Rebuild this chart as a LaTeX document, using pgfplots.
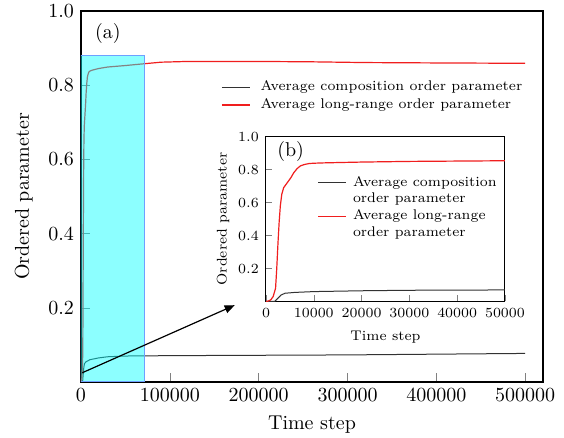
\documentclass[border=0pt]{standalone}
\usepackage{pgfplots}
\pgfplotsset{compat=1.18}
\usepackage{pgfplotstable}
\usetikzlibrary{arrows.meta}

\pgfplotstableread{
x y
0 0
1000 0.01
1500 0.03
2000 0.08
2250 0.2
2500 0.35
2750 0.48
3000 0.58
3300 0.65
3700 0.69
4200 0.71
4700 0.73
5200 0.75
5800 0.78
6500 0.805
7200 0.822
8000 0.83
9000 0.836
10000 0.838
12000 0.84
15000 0.842
20000 0.845
30000 0.849
40000 0.851
50000 0.853
72000 0.858
90000 0.862
120000 0.864
200000 0.864
260000 0.863
320000 0.861
400000 0.860
500000 0.859
}\redmain

\pgfplotstableread{
x y
0 0
1800 0.0
2500 0.02
3200 0.04
4000 0.05
6000 0.055
10000 0.06
20000 0.065
30000 0.068
50000 0.070
100000 0.071
200000 0.072
300000 0.073
400000 0.075
500000 0.077
}\blackmain

\pgfplotstableread{
x y
0 0
500 0.003
1000 0.01
1500 0.03
2000 0.08
2250 0.2
2500 0.35
2750 0.48
3000 0.58
3300 0.65
3700 0.69
4200 0.71
4700 0.73
5200 0.75
5800 0.78
6500 0.805
7200 0.822
8000 0.83
9000 0.836
10000 0.838
12000 0.84
15000 0.842
20000 0.845
30000 0.849
40000 0.851
50000 0.853
}\redinset

\pgfplotstableread{
x y
0 0
1800 0.0
2500 0.02
3200 0.04
4000 0.05
6000 0.055
10000 0.06
20000 0.065
30000 0.068
40000 0.069
50000 0.070
}\blackinset

\definecolor{mycyan}{RGB}{0,255,255}
\definecolor{myedge}{RGB}{110,160,255}
\definecolor{myred}{RGB}{240,30,30}
\definecolor{mygray}{RGB}{50,50,50}

\begin{document}
\begin{tikzpicture}
\useasboundingbox (-40.5pt,-28pt) rectangle (241.5pt,191pt);
\begin{axis}[
  name=main, at={(0pt,0pt)}, anchor=south west,
  scale only axis, width=231pt, height=185.5pt,
  xmin=0, xmax=520000, ymin=0, ymax=1,
  xtick={0,100000,200000,300000,400000,500000},
  ytick={0.2,0.4,0.6,0.8,1.0},
  tick align=inside, tick pos=left,
  scaled x ticks=false, scaled y ticks=false,
  xticklabel style={/pgf/number format/.cd, fixed, 1000 sep={}},
  yticklabel style={/pgf/number format/.cd, fixed, fixed zerofill, precision=1},
  axis line style={line width=0.6pt},
  xlabel={Time step}, ylabel={Ordered parameter},
  every axis y label/.append style={at={(axis description cs:-0.124,0.5)}, anchor=center},
  legend style={draw=none, fill=none, at={(axis description cs:0.29,0.835)}, anchor=north west, font=\scriptsize, row sep=-1.5pt},
  legend cell align=left,
  legend image code/.code={\draw[#1] (0pt,0pt) -- (14pt,0pt); \path (17pt,0pt);},
]
\addplot[mygray, line width=0.5pt] table[x=x,y=y] {\blackmain};
\addlegendentry{Average composition order parameter}
\addplot[myred, line width=0.6pt] table[x=x,y=y] {\redmain};
\addlegendentry{Average long-range order parameter}
\filldraw[fill=mycyan, fill opacity=0.45, draw=myedge, line width=0.5pt] (axis cs:0,0) rectangle (axis cs:72000,0.88);
\draw[-{Triangle[length=5pt,width=4pt]}, line width=0.6pt] (axis cs:1500,0.025) -- (axis cs:173000,0.207);
\node at (rel axis cs:0.058,0.94) {(a)};
\end{axis}
\begin{axis}[
  at={(92.5pt,40.25pt)}, anchor=south west,
  scale only axis, width=119.5pt, height=82.5pt,
  xmin=0, xmax=50000, ymin=0, ymax=1,
  xtick={0,10000,20000,30000,40000,50000},
  ytick={0.2,0.4,0.6,0.8,1.0},
  tick align=inside, tick pos=left,
  major tick length=3pt,
  scaled x ticks=false, scaled y ticks=false,
  tick label style={font=\scriptsize},
  label style={font=\scriptsize},
  xticklabel style={/pgf/number format/.cd, fixed, 1000 sep={}},
  yticklabel style={/pgf/number format/.cd, fixed, fixed zerofill, precision=1},
  axis line style={line width=0.5pt},
  axis background/.style={fill=white},
  xlabel={Time step}, ylabel={Ordered parameter},
  every axis y label/.append style={at={(axis description cs:-0.18,0.5)}, anchor=center},
  legend style={draw=none, fill=none, at={(axis description cs:0.19,0.81)}, anchor=north west, font=\scriptsize, row sep=-2pt},
  legend cell align=left,
  legend image code/.code={\draw[#1] (0pt,0pt) -- (14pt,0pt); \path (15pt,0pt);},
]
\addlegendimage{mygray, line width=0.5pt}
\addlegendentry{Average composition}
\addlegendimage{white, opacity=0}
\addlegendentry{order parameter}
\addlegendimage{myred, line width=0.6pt}
\addlegendentry{Average long-range}
\addlegendimage{white, opacity=0}
\addlegendentry{order parameter}
\addplot[mygray, line width=0.5pt, forget plot] table[x=x,y=y] {\blackinset};
\addplot[myred, line width=0.6pt, forget plot] table[x=x,y=y] {\redinset};
\node at (rel axis cs:0.103,0.908) {(b)};
\end{axis}
\end{tikzpicture}
\end{document}
